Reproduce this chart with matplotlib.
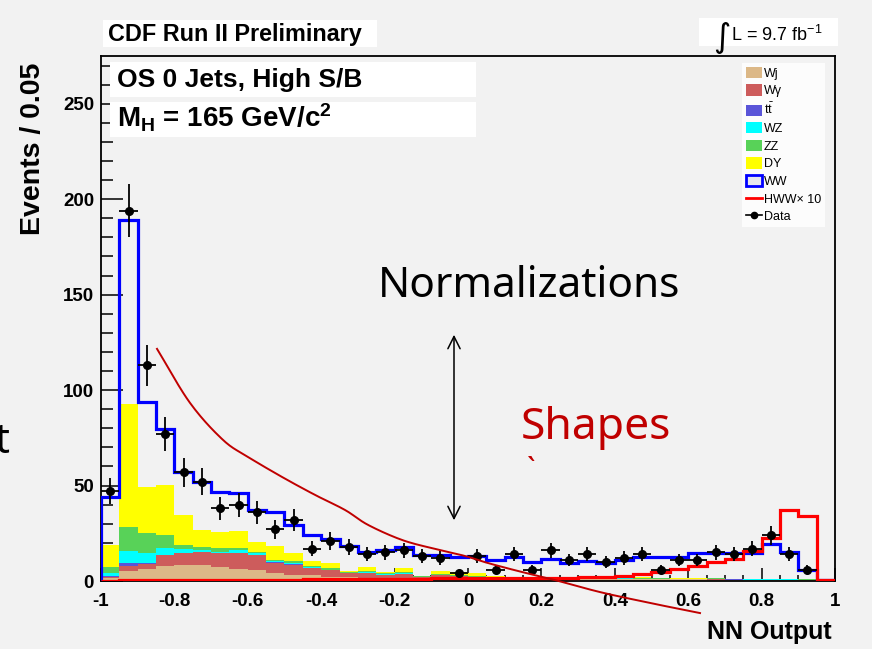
import numpy as np
import matplotlib
matplotlib.use("Agg")
import matplotlib.pyplot as plt
from matplotlib.patches import Patch, Rectangle, FancyArrowPatch
from matplotlib.lines import Line2D

# ---------------- data ----------------
edges = np.linspace(-1, 1, 41)
wj = [1.5, 5.4, 6.5, 8.0, 8.5, 8.5, 7.5, 6.5, 5.8, 4.0, 3.1, 3.1, 2.3, 2.0, 1.8, 1.8, 1.6, 1.4, 1.5, 1.4,
      1.3, 1.2, 1.2, 1.2, 1.1, 1.1, 1.0, 1.0, 1.0, 0.9, 0.9, 0.8, 0.8, 0.7, 0.6, 0.5, 0.4, 0.3, 0.3, 0.2]
wg = [0.8, 2.5, 2.5, 5.5, 6.0, 6.5, 7.0, 8.0, 7.8, 5.5, 5.5, 3.5, 3.3, 2.0, 2.5, 1.5, 2.0, 0.6, 1.5, 1.0,
      0.8, 0.6, 0.5, 0.4, 0.4, 0.3, 0.3, 0.3, 0.2, 0.2, 0.2, 0.2, 0.2, 0.2, 0.1, 0.1, 0.2, 0.3, 0.1, 0.0]
tt = [0.2, 1.4, 0.6, 0.3, 0.2, 0.2, 0.2, 0.3, 0.2, 0.2, 0.2, 0.1, 0.1, 0.1, 0.1, 0.1, 0.1, 0.1, 0.1, 0.1,
      0.1, 0.1, 0.1, 0.1, 0.1, 0.1, 0.1, 0.1, 0.1, 0.1, 0.1, 0.1, 0.1, 0.1, 0.3, 0.1, 0.1, 0.1, 0.0, 0.0]
wz = [1.5, 6.4, 5.0, 3.7, 2.0, 1.0, 0.7, 1.2, 0.7, 0.6, 0.7, 0.4, 0.3, 0.2, 0.3, 0.3, 0.4, 0.1, 0.2, 0.1,
      0.1, 0.1, 0.1, 0.1, 0.1, 0.1, 0.1, 0.1, 0.6, 0.1, 0.1, 0.1, 0.1, 0.1, 0.1, 0.3, 0.3, 0.1, 0.0, 0.0]
zz = [3.5, 12.4, 10.5, 6.6, 2.2, 1.8, 1.7, 1.5, 0.9, 0.7, 1.0, 0.8, 0.6, 0.4, 0.5, 0.4, 0.5, 0.2, 0.3, 0.3,
      0.2, 0.2, 0.1, 0.1, 0.1, 0.1, 0.1, 0.1, 0.1, 0.1, 0.1, 0.1, 0.1, 0.4, 0.1, 0.1, 0.1, 0.1, 0.4, 0.0]
dy = [11.4, 64.7, 24.4, 26.2, 15.7, 8.7, 8.7, 8.5, 5.2, 7.3, 4.2, 2.6, 3.0, 0.8, 2.0, 0.8, 2.0, 0.2, 1.5, 2.0,
      1.5, 0.2, 0.1, 0.1, 0.1, 0.1, 0.1, 0.1, 0.1, 0.6, 0.1, 0.1, 0.1, 0.1, 0.1, 0.1, 0.1, 0.1, 0.1, 0.0]
ww = [25.1, 96.2, 44.5, 29.2, 22.4, 25.0, 21.0, 20.0, 16.4, 18.0, 14.6, 13.5, 12.4, 13.0, 8.2, 11.3, 11.4, 11.0, 8.5, 7.8,
      9.1, 8.6, 10.3, 8.1, 9.5, 7.5, 8.9, 7.9, 8.9, 10.4, 10.9, 11.0, 13.4, 13.2, 13.2, 13.6, 18.2, 14.4, 4.9, 0.1]
hww10 = [0.0, 0.5, 0.5, 0.5, 0.5, 0.5, 0.5, 0.5, 0.5, 0.5, 0.5, 1.0, 1.0, 1.0, 1.0, 1.0, 1.0, 1.0, 1.4, 1.4,
         1.4, 1.4, 1.4, 1.8, 1.8, 1.8, 2.0, 2.3, 2.6, 3.5, 4.5, 6.5, 8.0, 10.0, 11.5, 15.5, 22.4, 37.0, 34.0, 0.5]
data = [47, 194, 113, 77, 57, 52, 38, 40, 36, 27, 32, 17, 21, 18, 14, 15, 16, 13, 12, 4,
        13, 6, 14, 6, 16, 11, 14, 10, 12, 14, 6, 11, 11, 15, 14, 17, 24, 14, 6, 0]

bkg_names = ["Wj", "W\u03b3", r"t$\bar{\mathrm{t}}$", "WZ", "ZZ", "DY"]
bkg_vals = [wj, wg, tt, wz, zz, dy]
bkg_colors = ["#dcb887", "#cd5c5c", "#5a55d8", "#00ffff", "#58d258", "#ffff00"]

# annotation curve ("Shapes"), control points in data units
curve_x = [-0.8474, -0.7575, -0.6676, -0.5995, -0.5068, -0.4169, -0.3351, -0.2725, -0.1798, -0.0899,
           -0.0082, 0.0545, 0.1471, 0.2371, 0.3597, 0.4959, 0.6322]
curve_y = [121.6, 93.3, 73.9, 65.0, 54.5, 45.1, 37.2, 29.4, 21.5, 16.8,
           13.1, 9.4, 4.7, 0.5, -5.8, -11.5, -16.8]

# ---------------- style ----------------
plt.rcParams['font.family'] = ['Liberation Sans', 'DejaVu Sans']
plt.rcParams['mathtext.fontset'] = 'custom'
plt.rcParams['mathtext.rm'] = 'Liberation Sans'
plt.rcParams['mathtext.bf'] = 'Liberation Sans:bold'
plt.rcParams['mathtext.it'] = 'Liberation Sans:italic'

W, H = 872, 649
BG = "#f2f2f2"
fig = plt.figure(figsize=(W / 100, H / 100), dpi=100, facecolor=BG)

def fx(px):
    return px / W

def fy(py):
    return 1 - py / H

ax_l, ax_r, ax_t, ax_b = 101, 835, 56, 581
ax = fig.add_axes([fx(ax_l), fy(ax_b), (ax_r - ax_l) / W, (ax_b - ax_t) / H])
ax.set_facecolor(BG)
ax.set_xlim(-1, 1)
ax.set_ylim(0, 275)

# stacked backgrounds
base = np.zeros(40)
for vals, col in zip(bkg_vals, bkg_colors):
    v = np.asarray(vals)
    ax.stairs(base + v, edges, baseline=base, fill=True, color=col, lw=0, zorder=2)
    base = base + v
total = base + np.asarray(ww)
ax.stairs(total, edges, baseline=0, color="#0000ff", lw=2.3, zorder=4)
ax.stairs(np.asarray(hww10), edges, baseline=0, color="#ff0000", lw=2.3, zorder=5)

# data points
centers = 0.5 * (edges[:-1] + edges[1:])
d = np.asarray(data, dtype=float)
m = d > 0
ax.errorbar(centers[m], d[m], yerr=np.sqrt(d[m]), xerr=0.025, fmt='o', color='black',
            ms=5.5, elinewidth=1.3, capsize=0, zorder=6)

# smooth annotation curve (Catmull-Rom through control points, in pixel space)
def catmull(xs, ys, n=20):
    P = np.column_stack([xs, ys]).astype(float)
    P = np.vstack([2 * P[0] - P[1], P, 2 * P[-1] - P[-2]])
    out = []
    for i in range(1, len(P) - 2):
        p0, p1, p2, p3 = P[i - 1], P[i], P[i + 1], P[i + 2]
        for t in np.linspace(0, 1, n, endpoint=False):
            t2, t3 = t * t, t * t * t
            out.append(0.5 * ((2 * p1) + (-p0 + p2) * t + (2 * p0 - 5 * p1 + 4 * p2 - p3) * t2
                              + (-p0 + 3 * p1 - 3 * p2 + p3) * t3))
    out.append(P[-2])
    return np.array(out)

cx = (np.asarray(curve_x) + 1) * 367.0
cy = np.asarray(curve_y) * 1.908
sm = catmull(cx, cy)
ax.plot(sm[:, 0] / 367.0 - 1, sm[:, 1] / 1.908, color="#c00000", lw=1.4, clip_on=False, zorder=7)

# axes styling
for s in ax.spines.values():
    s.set_linewidth(1.3)
    s.set_color('black')
ax.set_xticks(np.arange(-1, 1.01, 0.2))
ax.set_xticks(np.arange(-1, 1.01, 0.05), minor=True)
ax.set_xticklabels(["-1", "-0.8", "-0.6", "-0.4", "-0.2", "0", "0.2", "0.4", "0.6", "0.8", "1"])
ax.set_yticks([0, 50, 100, 150, 200, 250])
ax.set_yticks(np.arange(0, 275, 10), minor=True)
ax.tick_params(axis='x', which='major', direction='in', length=9.5, width=1.1, pad=9, labelsize=13.5)
ax.tick_params(axis='x', which='minor', direction='in', length=4.5, width=1.1)
ax.tick_params(axis='y', which='major', direction='in', length=16, width=1.1, pad=5, labelsize=13.5)
ax.tick_params(axis='y', which='minor', direction='in', length=8.5, width=1.1)
for lab in ax.get_xticklabels() + ax.get_yticklabels():
    lab.set_fontweight('bold')

# legend
handles = [Patch(facecolor=c, edgecolor='none') for c in bkg_colors]
handles.append(Patch(facecolor='#e8e8ee', edgecolor='#0000ff', lw=2))
handles.append(Line2D([], [], color='#ff0000', lw=2))
handles.append(Line2D([], [], color='black', lw=1.2, marker='o', ms=4.5))
labels = bkg_names + ["WW", "HWW\u00d7 10", "Data"]
leg = ax.legend(handles, labels, loc='upper left', bbox_to_anchor=(fx(742), fy(63)),
                bbox_transform=fig.transFigure, fontsize=9, frameon=True, fancybox=False,
                borderpad=0.3, labelspacing=0.38, handlelength=1.3, handleheight=1.0,
                handletextpad=0.15, borderaxespad=0)
leg.get_frame().set_facecolor('white')
leg.get_frame().set_edgecolor('white')
leg.get_frame().set_linewidth(0)
leg.set_zorder(10)

# header boxes
fig.patches.append(Rectangle((fx(103), fy(47)), (377 - 103) / W, 27 / H, transform=fig.transFigure,
                             facecolor='white', edgecolor='none', zorder=0))
fig.text(fx(108), fy(34), "CDF Run II Preliminary", fontsize=16.8, fontweight='bold', va='center', ha='left')

fig.patches.append(Rectangle((fx(699), fy(46)), (838 - 699) / W, 28 / H, transform=fig.transFigure,
                             facecolor='white', edgecolor='none', zorder=0))
fig.text(fx(722), fy(38), "\u222b", fontsize=24, va='center', ha='center', family=['DejaVu Sans'])
fig.text(fx(731), fy(35), "L = 9.7 fb$^{\\mathregular{-1}}$", fontsize=13, va='center', ha='left')

# in-plot label boxes
ax.add_patch(Rectangle((fx(110), fy(97)), (476 - 110) / W, 35 / H, transform=fig.transFigure,
                       facecolor='white', edgecolor='none', zorder=8))
fig.text(fx(117), fy(80), "OS 0 Jets, High S/B", fontsize=19, fontweight='bold', va='center', ha='left', zorder=9)
ax.add_patch(Rectangle((fx(110), fy(137)), (476 - 110) / W, 35 / H, transform=fig.transFigure,
                       facecolor='white', edgecolor='none', zorder=8))
fig.text(fx(117), fy(118), r"M$_{\mathbf{H}}$ = 165 GeV/c$^{\mathbf{2}}$", fontsize=20, fontweight='bold',
         va='center', ha='left', zorder=9)

# axis titles
fig.text(fx(33), fy(63), "Events / 0.05", rotation=90, fontsize=20.5, fontweight='bold', ha='center', va='top')
fig.text(fx(832), fy(632), "NN Output", fontsize=18, fontweight='bold', ha='right', va='center')

# slide annotations
fig.text(fx(529), fy(286), "Normalizations", fontsize=30.5, family=['Noto Sans'], ha='center', va='center',
         color='black')
fig.text(fx(596), fy(428), "Shapes", fontsize=32, family=['Noto Sans'], ha='center', va='center',
         color='#c00000')
fig.text(fx(531), fy(472), "`", fontsize=22, family=['Noto Sans'], ha='center', va='center', color='#c00000')
fig.text(fx(-6), fy(442), "t", fontsize=30, family=['Noto Sans'], ha='left', va='center', color='black')
fig.add_artist(FancyArrowPatch((fx(454), fy(523)), (fx(454), fy(332)),
                               transform=fig.transFigure, arrowstyle='<->',
                               mutation_scale=22, lw=1.1, color='black'))

fig.savefig("out.png", dpi=100, facecolor=BG)
